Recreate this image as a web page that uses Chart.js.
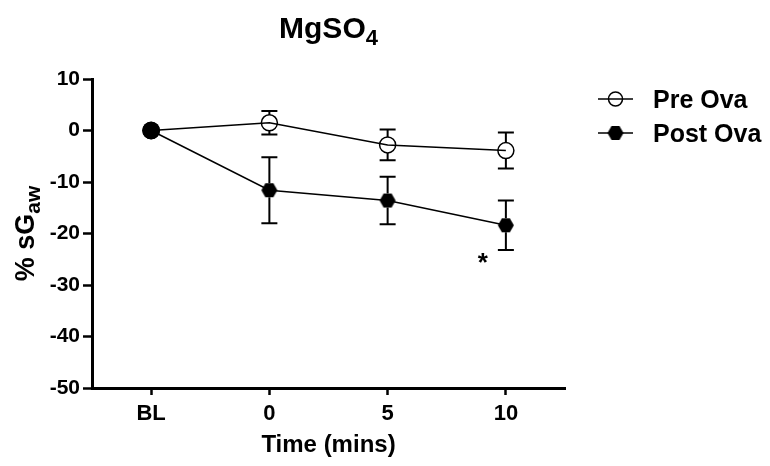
<!DOCTYPE html>
<html>
<head>
<meta charset="utf-8">
<title>MgSO4</title>
<script src="https://cdn.jsdelivr.net/npm/chart.js@4.4.1/dist/chart.umd.min.js"></script>
<style>
  body { margin: 0; background: #fff; }
  #wrap { width: 770px; height: 466px; }
</style>
</head>
<body>
<div id="wrap"><canvas id="chart" width="770" height="466"></canvas></div>
<script>
// Data
const timeLabels = ['BL', '0', '5', '10'];
const preOva = [0, 1.5, -2.8, -3.9];
const preOvaErr = [0, 2.3, 3.0, 3.5];
const postOva = [0, -11.6, -13.6, -18.4];
const postOvaErr = [0, 6.4, 4.6, 4.8];
const yTicks = [10, 0, -10, -20, -30, -40, -50];
const sigMarks = [{ index: 3, value: -24.5, text: '*' }];

const FONT = '"Liberation Sans", Arial, Helvetica, sans-serif';

// filled hexagon used as the Post Ova marker
function hexagon(r) {
    const c = document.createElement('canvas');
    const s = Math.ceil(r * 2 + 2);
    c.width = s;
    c.height = s;
    const g = c.getContext('2d');
    g.beginPath();
    for (let i = 0; i < 6; i++) {
        const a = Math.PI / 3 * i;
        const px = s / 2 + r * Math.cos(a);
        const py = s / 2 + r * Math.sin(a);
        if (i) g.lineTo(px, py); else g.moveTo(px, py);
    }
    g.closePath();
    g.fillStyle = '#000';
    g.fill();
    return c;
}
const hex = hexagon(8);

// text with a subscript part, centred on x
function drawSub(ctx, main, mainSize, sub, subSize, drop, x, y) {
    ctx.font = 'bold ' + mainSize + 'px ' + FONT;
    const w1 = ctx.measureText(main).width;
    ctx.font = 'bold ' + subSize + 'px ' + FONT;
    const w2 = ctx.measureText(sub).width;
    const start = x - (w1 + w2) / 2;
    ctx.textAlign = 'left';
    ctx.textBaseline = 'alphabetic';
    ctx.font = 'bold ' + mainSize + 'px ' + FONT;
    ctx.fillText(main, start, y);
    ctx.font = 'bold ' + subSize + 'px ' + FONT;
    ctx.fillText(sub, start + w1, y + drop);
}

// error bars drawn from marker edge out to caps
const errorBars = {
    id: 'errorBars',
    afterDatasetsDraw(chart) {
        const ctx = chart.ctx;
        const y = chart.scales.y;
        ctx.save();
        ctx.strokeStyle = '#000';
        ctx.lineWidth = 2;
        chart.data.datasets.forEach((ds, i) => {
            const meta = chart.getDatasetMeta(i);
            meta.data.forEach((pt, j) => {
                const e = ds.errors[j];
                if (!e) return;
                const top = y.getPixelForValue(ds.data[j] + e);
                const bot = y.getPixelForValue(ds.data[j] - e);
                const gap = ds.markerGap;
                ctx.beginPath();
                ctx.moveTo(pt.x, top);
                ctx.lineTo(pt.x, pt.y - gap);
                ctx.moveTo(pt.x, pt.y + gap);
                ctx.lineTo(pt.x, bot);
                ctx.moveTo(pt.x - 8, top);
                ctx.lineTo(pt.x + 8, top);
                ctx.moveTo(pt.x - 8, bot);
                ctx.lineTo(pt.x + 8, bot);
                ctx.stroke();
            });
        });
        ctx.restore();
    }
};

// title, axis titles, legend and significance mark
const labels = {
    id: 'labels',
    afterDraw(chart) {
        const ctx = chart.ctx;
        const area = chart.chartArea;
        const xs = chart.scales.x;
        const ys = chart.scales.y;
        const cx = (area.left + area.right) / 2;
        ctx.save();
        ctx.fillStyle = '#000';

        drawSub(ctx, 'MgSO', 30, '4', 22, 7, cx, 38);

        ctx.font = 'bold 24px ' + FONT;
        ctx.textAlign = 'center';
        ctx.textBaseline = 'alphabetic';
        ctx.fillText('Time (mins)', cx, 452);

        ctx.save();
        ctx.translate(34, (area.top + area.bottom) / 2);
        ctx.rotate(-Math.PI / 2);
        drawSub(ctx, '% sG', 27, 'aw', 21, 6, 0, 0);
        ctx.restore();

        // legend
        const lx = area.right + 33;
        chart.data.datasets.forEach((ds, i) => {
            const base = area.top + 29 + i * 34;
            const my = base - 9;
            ctx.strokeStyle = '#000';
            ctx.lineWidth = 1.5;
            ctx.beginPath();
            ctx.moveTo(lx, my);
            ctx.lineTo(lx + 35, my);
            ctx.stroke();
            if (i === 0) {
                ctx.beginPath();
                ctx.arc(lx + 17.5, my, 7, 0, Math.PI * 2);
                ctx.stroke();
            } else {
                ctx.drawImage(hex, lx + 17.5 - hex.width / 2, my - hex.height / 2);
            }
            ctx.font = 'bold 25px ' + FONT;
            ctx.textAlign = 'left';
            ctx.fillText(ds.label, lx + 55, base);
        });

        sigMarks.forEach(m => {
            ctx.font = 'bold 26px ' + FONT;
            ctx.textAlign = 'center';
            ctx.fillText(m.text, xs.getPixelForValue(m.index) - 23, ys.getPixelForValue(m.value) + 14);
        });
        ctx.restore();
    }
};

const ctx = document.getElementById('chart').getContext('2d');
new Chart(ctx, {
    type: 'line',
    data: {
        labels: timeLabels,
        datasets: [{
            label: 'Pre Ova',
            data: preOva,
            errors: preOvaErr,
            markerGap: 8,
            order: 1,
            borderColor: '#000',
            borderWidth: 1.5,
            pointStyle: 'circle',
            pointRadius: 8,
            pointBorderWidth: 1.5,
            pointBorderColor: '#000',
            pointBackgroundColor: 'rgba(0,0,0,0)',
            tension: 0
        }, {
            label: 'Post Ova',
            data: postOva,
            errors: postOvaErr,
            markerGap: 7,
            order: 0,
            borderColor: '#000',
            borderWidth: 1.5,
            pointStyle: ['circle', hex, hex, hex],
            pointRadius: [9, 8, 8, 8],
            pointBorderWidth: 0,
            pointBackgroundColor: '#000',
            tension: 0
        }]
    },
    options: {
        responsive: false,
        animation: false,
        layout: { padding: { left: 0, top: 79, right: 205, bottom: 0 } },
        plugins: {
            legend: { display: false },
            title: { display: false },
            tooltip: { enabled: false }
        },
        scales: {
            x: {
                type: 'category',
                offset: true,
                afterFit: s => { s.height = 78; },
                grid: { offset: false, drawOnChartArea: false, drawTicks: true, tickLength: 7, tickWidth: 2.5, tickColor: '#000' },
                border: { color: '#000', width: 3 },
                ticks: { color: '#000', padding: 6, font: { family: FONT, size: 22, weight: 'bold' } }
            },
            y: {
                min: Math.min(...yTicks),
                max: Math.max(...yTicks),
                afterBuildTicks: s => { s.ticks = yTicks.map(v => ({ value: v })); },
                afterFit: s => { s.width = 92; },
                grid: { drawOnChartArea: false, drawTicks: true, tickLength: 9, tickWidth: 2.5, tickColor: '#000' },
                border: { color: '#000', width: 3 },
                ticks: { color: '#000', padding: 3, font: { family: FONT, size: 21, weight: 'bold' } }
            }
        }
    },
    plugins: [errorBars, labels]
});
</script>
</body>
</html>
